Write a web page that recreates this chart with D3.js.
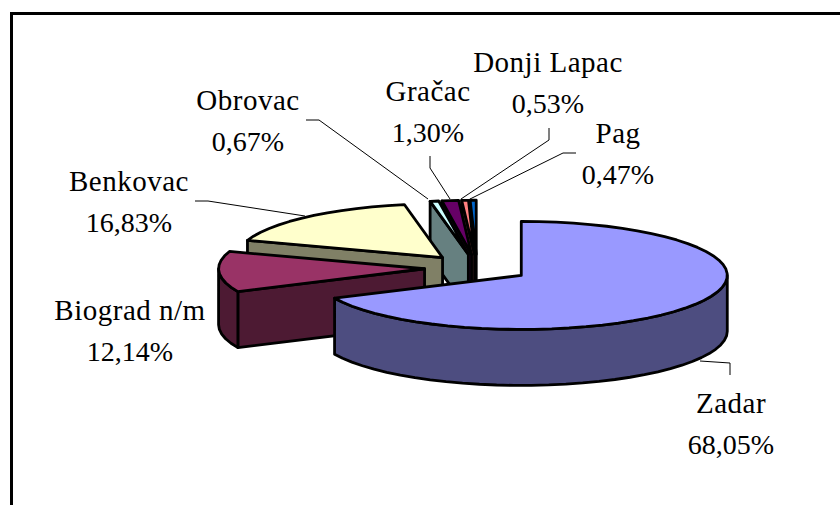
<!DOCTYPE html>
<html><head><meta charset="utf-8">
<script src="https://cdn.jsdelivr.net/npm/d3@7/dist/d3.min.js"></script>
<style>html,body{margin:0;padding:0;background:#fff}svg{display:block}
text{font-family:"Liberation Serif",serif;fill:#000;text-anchor:middle}
.n{font-size:29px;letter-spacing:.5px}.p{font-size:28px;letter-spacing:0}</style>
</head><body><svg id="c" width="840" height="505"></svg>
<script>
const categories=["Zadar","Biograd n/m","Benkovac","Obrovac","Gračac","Donji Lapac","Pag"];
const percents=[68.05,12.14,16.83,0.67,1.30,0.53,0.47];
const percentLabels=["68,05%","12,14%","16,83%","0,67%","1,30%","0,53%","0,47%"];
const topColors=["#9999FF","#993366","#FFFFCC","#CCFFFF","#660066","#FF8080","#0066CC"];
const sideColors=["#4D4D80","#4D1A33","#808066","#668080","#330033","#804040","#003366"];

// Layout
const W=840,H=505,cx=477,cy=268,rx=206,ry=54,depth=56,explode=52.5;
const labelCenters=[[731,413],[130,320],[129,191],[248,110],[428,101],[548,72],[618,143]];
const lineGap=40.5;
const leaders=[
  [[700,361],[730,363],[730,375]],
  null,
  [[305,216],[208,201],[195,201]],
  [[428,199],[319,120],[306,120]],
  [[450,199],[430,168],[430,156]],
  [[461,199],[549,140],[549,128]],
  [[470,199],[563,153],[576,153]]
];

const svg=d3.select("#c");
svg.append("path").attr("d",`M11.5,${H+5}V13.5H${W+5}`).attr("fill","none").attr("stroke","#000").attr("stroke-width",3);

const pie=d3.pie().sort(null).value(d=>d).startAngle(0).endAngle(2*Math.PI);
const arcs=pie(percents);
const sx=d3.scaleLinear().domain([-1,1]).range([-rx,rx]);
const sy=d3.scaleLinear().domain([-1,1]).range([-ry,ry]);
const line=d3.line();

function geom(a){
  const m=(a.startAngle+a.endAngle)/2;
  const ax=cx+explode*Math.sin(m), ay=cy-explode*(ry/rx)*Math.cos(m);
  const rim=t=>[ax+sx(Math.sin(t)),ay-sy(Math.cos(t))];
  const samples=(s,e)=>{const n=Math.max(1,Math.ceil((e-s)/(Math.PI/36)));return d3.range(n+1).map(i=>rim(s+(e-s)*i/n));};
  return {ax,ay,rim,samples};
}
const g=svg.append("g").attr("stroke","#000").attr("stroke-width",2.8).attr("stroke-linejoin","round");
const drop=p=>[p[0],p[1]+depth];
// Paint from the back slice forward; Zadar last
d3.range(arcs.length-1,-1,-1).forEach(i=>{
  const a=arcs[i],{ax,ay,rim,samples}=geom(a);
  const s=a.startAngle,e=a.endAngle,apex=[ax,ay];
  if(Math.sin(s)<-1e-6){
    const r=rim(s);
    g.append("path").attr("fill",sideColors[i]).attr("d",line([apex,r,drop(r),drop(apex)])+"Z");
  }
  if(Math.sin(e)>1e-6){
    const r=rim(e);
    g.append("path").attr("fill",sideColors[i]).attr("d",line([apex,r,drop(r),drop(apex)])+"Z");
  }
  const fs=Math.max(s,Math.PI/2),fe=Math.min(e,1.5*Math.PI);
  if(fe>fs){
    const up=samples(fs,fe);
    g.append("path").attr("fill",sideColors[i]).attr("d",line(up.concat(up.slice().reverse().map(drop)))+"Z");
  }
  g.append("path").attr("fill",topColors[i]).attr("d",line([apex].concat(samples(s,e)))+"Z");
});

const lg=svg.append("g").attr("fill","none").attr("stroke","#000").attr("stroke-width",1);
leaders.forEach(l=>{if(l)lg.append("path").attr("d",line(l));});
categories.forEach((c,i)=>{
  const [x,y]=labelCenters[i];
  svg.append("text").attr("class","n").attr("x",x).attr("y",y).text(c);
  svg.append("text").attr("class","p").attr("x",x).attr("y",y+lineGap).text(percentLabels[i]);
});
</script></body></html>
